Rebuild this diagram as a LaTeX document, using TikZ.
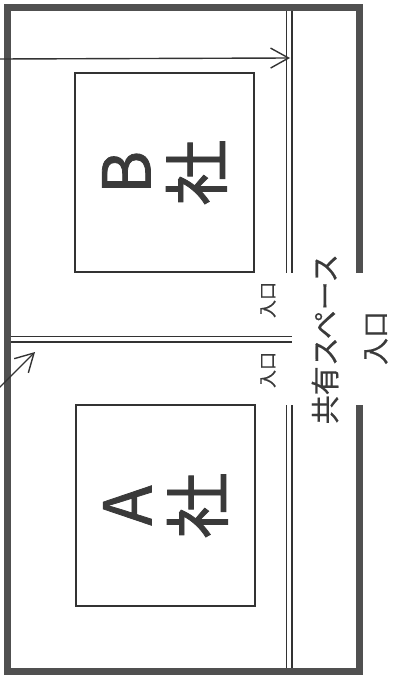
\documentclass[tikz,border=0pt]{standalone}
\usepackage{fontspec}
\setmainfont{Noto Sans CJK JP}
\newfontfamily\heavyfont{Noto Sans CJK JP}[FakeBold=1.2]
\newfontfamily\midfont{Noto Sans CJK JP}[FakeBold=0.5]
\usetikzlibrary{arrows.meta}
\definecolor{wallgray}{HTML}{505050}
\definecolor{linegray}{HTML}{333333}
\definecolor{textgray}{HTML}{3A3A3A}
\begin{document}
\begin{tikzpicture}[x=1pt,y=-1pt,
  wall/.style={draw=wallgray,line width=7pt,line join=miter},
  partition/.style={draw=linegray,line width=1.2pt,double=white,double distance=4.6pt},
  room/.style={draw=linegray,line width=1.2pt,rotate=90,align=center,text=textgray,
    font=\heavyfont\fontsize{66}{71}\selectfont,inner sep=0pt},
  label/.style={rotate=90,text=textgray,inner sep=0pt},
  pointer/.style={draw=linegray,line width=1.4pt,-{Straight Barb[length=18pt,width=20pt,line width=1.4pt]}}]
\useasboundingbox (0,0) rectangle (393,680);
% outer walls with an opening on the right
\draw[wall] (359.5,273) -- (359.5,7) -- (7,7) -- (7,671) -- (359.5,671) -- (359.5,405);
% partitions
\draw[partition] (289,10.5) -- (289,273);
\draw[partition] (289,405) -- (289,667.5);
\draw[partition] (10.5,339) -- (291.5,339);
% rooms
\node[room,minimum width=199pt,minimum height=179pt] (B) at (164.5,172.5) {B\\社};
\node[room,minimum width=201pt,minimum height=179pt] (A) at (165.5,505.5) {A\\社};
% labels
\node[label,font=\midfont\fontsize{29}{29}\selectfont] (shared) at (325,339) {共有スペース};
\node[label,font=\midfont\fontsize{27}{27}\selectfont] (ent) at (376,338) {入口};
\node[label,font=\midfont\fontsize{18}{18}\selectfont] (entB) at (268,300) {入口};
\node[label,font=\midfont\fontsize{18}{18}\selectfont] (entA) at (268,370) {入口};
% pointers
\coordinate (p1s) at (-2,59);
\coordinate (p1e) at (290,58);
\coordinate (p2s) at (-4,391);
\coordinate (p2e) at (35,352);
\draw[pointer] (p1s) -- (p1e);
\draw[pointer] (p2s) -- (p2e);
\end{tikzpicture}
\end{document}
